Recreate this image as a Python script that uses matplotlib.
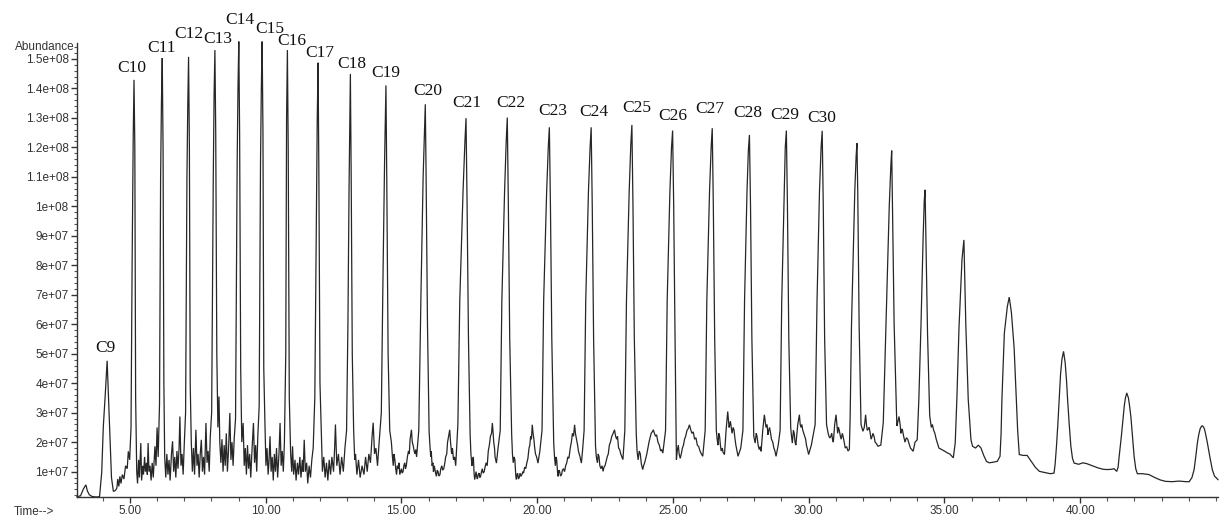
import numpy as np
import matplotlib.pyplot as plt
from matplotlib.ticker import FixedLocator, MultipleLocator

# n-alkane peaks: retention time (min) and apex abundance (x1e7)
peak_labels = ['C9', 'C10', 'C11', 'C12', 'C13', 'C14', 'C15', 'C16', 'C17', 'C18',
               'C19', 'C20', 'C21', 'C22', 'C23', 'C24', 'C25', 'C26', 'C27', 'C28',
               'C29', 'C30']
peak_times = [4.16, 5.15, 6.19, 7.16, 8.13, 9.01, 9.87, 10.80, 11.93, 13.12,
              14.43, 15.88, 17.38, 18.90, 20.45, 21.99, 23.49, 24.99, 26.45, 27.82,
              29.18, 30.50, 31.78, 33.06, 34.29, 35.72, 37.39, 39.39, 41.72, 44.50]
peak_heights = [4.76, 14.29, 15.03, 15.07, 15.30, 15.59, 15.59, 15.30, 14.87, 14.49,
                14.10, 13.46, 12.99, 13.01, 12.68, 12.68, 12.76, 12.57, 12.65, 12.42,
                12.57, 12.56, 12.14, 11.89, 10.56, 8.86, 6.92, 5.08, 3.67, 2.56]

# trace between the apexes: flanks, baseline noise and small humps (min, x1e7)
valley_points = [
    (3.05, 0.15), (3.18, 0.18), (3.28, 0.40), (3.34, 0.50), (3.38, 0.55), (3.43, 0.35),
    (3.50, 0.22), (3.60, 0.16), (3.75, 0.14), (3.88, 0.15), (3.96, 0.97), (4.02, 2.54),
    (4.09, 3.60), (4.21, 3.5), (4.26, 2.2), (4.32, 0.8), (4.39, 0.33), (4.44, 0.35),
    (4.48, 0.38), (4.52, 0.45), (4.55, 0.75), (4.59, 0.5), (4.63, 0.84), (4.67, 0.6),
    (4.72, 0.9), (4.78, 0.75), (4.84, 1.2), (4.90, 1.1), (4.94, 1.69), (4.99, 1.4),
    (5.04, 2.5), (5.08, 8.0), (5.12, 12.3), (5.18, 12.0), (5.21, 3.5),
    # C10 - C11
    (5.25, 1.0), (5.28, 0.6), (5.32, 1.4), (5.35, 0.8), (5.40, 1.97), (5.43, 0.7),
    (5.47, 1.2), (5.50, 0.9), (5.54, 1.5), (5.57, 1.0), (5.61, 1.3), (5.64, 0.9),
    (5.67, 1.97), (5.70, 1.0), (5.74, 1.2), (5.78, 0.7), (5.82, 1.3), (5.86, 0.8),
    (5.92, 1.86), (5.96, 1.2), (6.00, 2.5), (6.04, 1.5), (6.09, 3.3), (6.13, 11.0),
    (6.16, 13.5), (6.22, 12.0), (6.25, 4.0), (6.28, 1.5),
    # C11 - C12
    (6.32, 0.8), (6.36, 1.6), (6.40, 0.9), (6.44, 1.4), (6.48, 0.7), (6.53, 1.6),
    (6.57, 2.03), (6.61, 1.0), (6.65, 1.5), (6.69, 0.8), (6.73, 1.7), (6.77, 1.1),
    (6.81, 1.8), (6.84, 2.87), (6.88, 1.2), (6.92, 1.6), (6.96, 0.9), (7.00, 1.9),
    (7.05, 3.0), (7.10, 11.0), (7.13, 13.4), (7.19, 12.0), (7.22, 4.0), (7.26, 2.0),
    # C12 - C13
    (7.30, 1.0), (7.34, 1.8), (7.38, 0.9), (7.43, 2.42), (7.47, 1.2), (7.51, 1.6),
    (7.55, 0.8), (7.59, 1.6), (7.63, 2.08), (7.67, 1.0), (7.71, 1.5), (7.75, 0.9),
    (7.80, 2.65), (7.84, 1.3), (7.88, 1.7), (7.92, 1.0), (7.96, 2.2), (8.01, 3.0),
    (8.07, 11.0), (8.10, 13.8), (8.16, 12.5), (8.20, 5.0), (8.24, 2.5), (8.28, 3.55),
    (8.31, 2.0),
    # C13 - C14
    (8.35, 1.3), (8.39, 2.1), (8.43, 1.0), (8.47, 1.9), (8.51, 1.2), (8.55, 2.3),
    (8.59, 1.0), (8.63, 1.7), (8.68, 2.99), (8.72, 1.4), (8.76, 2.0), (8.80, 1.2),
    (8.84, 2.1), (8.89, 2.8), (8.95, 11.5), (8.98, 14.0), (9.04, 12.5), (9.08, 4.5),
    (9.12, 2.0),
    # C14 - C15
    (9.17, 2.65), (9.21, 1.2), (9.25, 1.8), (9.29, 0.9), (9.33, 1.9), (9.37, 1.1),
    (9.41, 1.6), (9.45, 0.8), (9.50, 1.8), (9.55, 2.65), (9.59, 1.3), (9.63, 1.9),
    (9.67, 1.0), (9.71, 2.2), (9.76, 3.2), (9.81, 11.5), (9.84, 14.0), (9.90, 12.5),
    (9.93, 4.5), (9.97, 2.76),
    # C15 - C16
    (10.01, 1.2), (10.05, 1.8), (10.09, 0.9), (10.12, 1.3), (10.16, 2.2), (10.20, 1.0),
    (10.24, 1.5), (10.28, 0.7), (10.32, 1.6), (10.36, 1.0), (10.40, 1.8), (10.44, 0.8),
    (10.49, 1.6), (10.53, 2.65), (10.57, 1.2), (10.61, 1.7), (10.65, 1.0), (10.69, 2.0),
    (10.74, 5.0), (10.77, 13.0), (10.83, 12.0), (10.87, 3.5), (10.92, 1.6),
    # C16 - C17
    (10.96, 1.0), (10.99, 1.86), (11.03, 0.9), (11.08, 1.4), (11.12, 0.7), (11.17, 1.3),
    (11.21, 0.9), (11.26, 1.5), (11.30, 0.8), (11.35, 1.4), (11.38, 1.0), (11.42, 2.08),
    (11.46, 1.0), (11.51, 1.3), (11.55, 0.6), (11.60, 1.2), (11.65, 0.8), (11.70, 1.4),
    (11.75, 1.8), (11.81, 3.5), (11.86, 9.0), (11.90, 13.0), (11.96, 11.0), (12.00, 4.0),
    (12.05, 2.31),
    # C17 - C18
    (12.09, 1.0), (12.14, 1.5), (12.19, 0.8), (12.24, 1.3), (12.29, 0.7), (12.34, 1.4),
    (12.39, 0.9), (12.44, 1.5), (12.50, 1.0), (12.54, 1.8), (12.57, 2.6), (12.62, 1.2),
    (12.68, 1.6), (12.74, 0.9), (12.80, 1.5), (12.86, 1.0), (12.92, 1.8), (12.98, 2.4),
    (13.03, 6.0), (13.07, 10.5), (13.10, 13.0), (13.15, 11.0), (13.19, 5.0), (13.24, 2.42),
    # C18 - C19
    (13.28, 1.4), (13.31, 1.6), (13.36, 0.9), (13.42, 1.4), (13.48, 0.8), (13.55, 1.2),
    (13.62, 0.9), (13.68, 1.5), (13.74, 1.0), (13.80, 1.6), (13.86, 1.3), (13.92, 2.2),
    (13.96, 2.66), (14.01, 1.6), (14.06, 1.8), (14.12, 1.2), (14.18, 2.0), (14.26, 3.0),
    (14.32, 7.5), (14.38, 11.5), (14.41, 13.0), (14.46, 11.0), (14.51, 5.0), (14.57, 2.4),
    # C19 - C20
    (14.63, 2.0), (14.67, 1.5), (14.70, 1.2), (14.73, 1.6), (14.76, 1.4), (14.79, 1.1),
    (14.82, 0.9), (14.85, 1.2), (14.88, 1.1), (14.91, 1.3), (14.94, 0.9), (14.97, 1.0),
    (15.00, 1.1), (15.03, 0.95), (15.06, 1.0), (15.09, 1.2), (15.12, 1.3), (15.15, 1.1),
    (15.18, 1.2), (15.22, 1.5), (15.26, 1.7), (15.29, 1.6), (15.32, 2.1), (15.37, 2.42),
    (15.40, 2.0), (15.43, 1.9), (15.47, 1.7), (15.50, 1.6), (15.53, 1.75), (15.56, 1.5),
    (15.64, 2.4), (15.72, 7.0), (15.80, 11.0), (15.85, 12.6), (15.91, 11.0), (15.96, 6.0),
    (16.02, 2.37),
    # C20 - C21
    (16.05, 1.9), (16.08, 1.5), (16.10, 1.7), (16.13, 1.2), (16.16, 1.3), (16.18, 1.0),
    (16.21, 1.2), (16.23, 1.1), (16.26, 0.95), (16.29, 0.84), (16.32, 1.05), (16.35, 1.0),
    (16.38, 0.85), (16.42, 0.9), (16.45, 1.1), (16.49, 1.2), (16.52, 1.05), (16.56, 1.1),
    (16.60, 1.3), (16.63, 1.5), (16.67, 1.6), (16.70, 2.0), (16.74, 2.2), (16.78, 2.42),
    (16.81, 2.0), (16.85, 1.6), (16.88, 1.8), (16.92, 1.4), (16.96, 1.5), (17.00, 1.2),
    (17.08, 2.6), (17.15, 6.8), (17.27, 10.5), (17.34, 12.2), (17.42, 10.0), (17.47, 5.5),
    (17.53, 2.3),
    # C21 - C22
    (17.56, 1.6), (17.60, 1.2), (17.62, 1.4), (17.65, 1.5), (17.68, 0.9), (17.70, 0.73),
    (17.73, 0.9), (17.75, 1.0), (17.78, 0.8), (17.80, 0.75), (17.83, 0.9), (17.86, 0.95),
    (17.89, 0.8), (17.92, 0.85), (17.95, 1.0), (17.98, 1.1), (18.01, 0.95), (18.05, 1.0),
    (18.08, 1.15), (18.12, 1.3), (18.16, 1.2), (18.20, 1.7), (18.24, 1.9), (18.28, 2.2),
    (18.32, 2.3), (18.35, 2.65), (18.38, 2.3), (18.40, 2.0), (18.43, 1.8), (18.45, 1.5),
    (18.50, 1.29), (18.56, 1.8), (18.64, 2.4), (18.70, 6.8), (18.80, 10.5), (18.86, 12.2),
    (18.94, 10.0), (18.99, 5.5), (19.06, 2.3),
    # C22 - C23
    (19.09, 1.6), (19.12, 1.3), (19.15, 1.5), (19.18, 1.4), (19.21, 0.9), (19.23, 0.73),
    (19.26, 0.9), (19.28, 0.95), (19.31, 0.75), (19.34, 0.8), (19.37, 0.95), (19.40, 0.84),
    (19.44, 0.9), (19.47, 1.0), (19.50, 0.95), (19.54, 1.15), (19.58, 1.1), (19.62, 1.3),
    (19.66, 1.45), (19.70, 1.8), (19.73, 1.9), (19.76, 2.2), (19.79, 2.1), (19.82, 2.59),
    (19.85, 2.3), (19.88, 2.1), (19.91, 1.8), (19.94, 1.6), (19.98, 1.5), (20.03, 1.29),
    (20.10, 1.7), (20.18, 2.4), (20.24, 6.8), (20.35, 10.5), (20.41, 12.0), (20.49, 10.0),
    (20.54, 5.5), (20.61, 1.97),
    # C23 - C24
    (20.64, 1.5), (20.67, 1.2), (20.70, 1.5), (20.72, 1.4), (20.75, 1.0), (20.77, 0.84),
    (20.80, 1.05), (20.83, 1.0), (20.86, 0.85), (20.90, 0.9), (20.93, 1.05), (20.97, 1.1),
    (21.01, 1.0), (21.05, 1.2), (21.09, 1.3), (21.13, 1.5), (21.17, 1.45), (21.22, 1.8),
    (21.26, 2.0), (21.30, 2.3), (21.34, 2.2), (21.38, 2.59), (21.41, 2.3), (21.45, 2.1),
    (21.49, 1.9), (21.52, 1.7), (21.58, 1.5), (21.63, 1.29), (21.68, 1.8), (21.73, 2.4),
    (21.79, 6.8), (21.89, 10.5), (21.95, 12.0), (22.03, 10.0), (22.08, 5.5), (22.15, 1.86),
    # C24 - C25
    (22.18, 1.5), (22.22, 1.3), (22.25, 1.6), (22.28, 1.5), (22.31, 1.2), (22.35, 1.1),
    (22.39, 1.2), (22.43, 1.01), (22.46, 1.15), (22.50, 1.2), (22.54, 1.35), (22.58, 1.5),
    (22.62, 1.6), (22.66, 1.9), (22.70, 2.0), (22.75, 2.2), (22.80, 2.3), (22.85, 2.42),
    (22.89, 2.2), (22.93, 2.1), (22.96, 2.2), (23.00, 1.8), (23.04, 1.75), (23.08, 1.6),
    (23.16, 1.41), (23.23, 2.4), (23.29, 6.8), (23.39, 10.5), (23.45, 12.1), (23.53, 10.0),
    (23.58, 5.5), (23.65, 2.3),
    # C25 - C26
    (23.68, 1.7), (23.72, 1.4), (23.76, 1.7), (23.80, 1.6), (23.84, 1.25), (23.89, 1.07),
    (23.92, 1.2), (23.96, 1.3), (24.00, 1.45), (24.04, 1.6), (24.08, 1.8), (24.12, 2.0),
    (24.16, 2.15), (24.20, 2.3), (24.24, 2.35), (24.28, 2.42), (24.32, 2.3), (24.36, 2.2),
    (24.40, 2.25), (24.45, 2.0), (24.50, 1.9), (24.55, 1.7), (24.59, 1.75), (24.63, 1.63),
    (24.73, 2.4), (24.79, 6.8), (24.89, 10.5), (24.95, 12.0), (25.03, 10.0), (25.08, 5.5),
    (25.13, 1.41),
    # C26 - C27
    (25.16, 1.7), (25.20, 1.9), (25.23, 1.6), (25.27, 1.45), (25.31, 1.6), (25.35, 1.8),
    (25.39, 1.9), (25.43, 2.1), (25.47, 2.2), (25.52, 2.4), (25.56, 2.45), (25.61, 2.59),
    (25.65, 2.45), (25.70, 2.3), (25.75, 2.35), (25.80, 2.1), (25.85, 2.15), (25.90, 1.9),
    (25.95, 1.85), (26.00, 1.7), (26.05, 1.6), (26.10, 1.52), (26.19, 2.4), (26.25, 6.8),
    (26.35, 10.5), (26.41, 12.0), (26.49, 10.0), (26.54, 5.5), (26.60, 2.4),
    # C27 - C28
    (26.63, 2.1), (26.66, 1.9), (26.69, 2.3), (26.72, 2.2), (26.75, 1.9), (26.78, 1.7),
    (26.82, 1.8), (26.85, 1.65), (26.90, 1.58), (26.96, 2.4), (27.02, 3.04), (27.05, 2.7),
    (27.07, 2.5), (27.10, 2.6), (27.12, 2.7), (27.15, 2.5), (27.18, 2.3), (27.22, 2.5),
    (27.25, 2.42), (27.29, 2.1), (27.32, 1.9), (27.36, 1.7), (27.40, 1.52), (27.50, 1.8),
    (27.58, 2.4), (27.64, 6.8), (27.73, 10.5), (27.78, 11.9), (27.86, 10.0), (27.91, 5.5),
    (27.98, 2.2),
    # C28 - C29
    (28.03, 1.97), (28.07, 2.3), (28.10, 2.2), (28.14, 1.9), (28.18, 1.75), (28.22, 1.85),
    (28.25, 1.69), (28.31, 2.4), (28.37, 2.93), (28.40, 2.7), (28.43, 2.5), (28.47, 2.6),
    (28.50, 2.25), (28.53, 2.4), (28.56, 2.5), (28.60, 2.3), (28.63, 2.1), (28.68, 2.0),
    (28.72, 1.8), (28.76, 1.7), (28.80, 1.52), (28.88, 1.9), (28.95, 2.4), (29.01, 6.8),
    (29.10, 10.5), (29.14, 12.0), (29.22, 10.0), (29.27, 5.5), (29.34, 2.5),
    # C29 - C30
    (29.37, 2.2), (29.40, 1.97), (29.44, 2.4), (29.47, 2.3), (29.50, 2.0), (29.53, 1.9),
    (29.57, 2.3), (29.60, 2.6), (29.66, 2.93), (29.69, 2.6), (29.72, 2.5), (29.75, 2.6),
    (29.78, 2.42), (29.82, 2.3), (29.85, 2.2), (29.89, 2.1), (29.92, 1.9), (29.96, 1.75),
    (30.00, 1.58), (30.10, 1.9), (30.24, 2.6), (30.31, 6.8), (30.40, 10.5), (30.46, 12.0),
    (30.54, 10.0), (30.59, 5.5), (30.66, 2.6),
    # C30 - C31
    (30.72, 2.3), (30.75, 2.2), (30.78, 2.14), (30.82, 2.2), (30.85, 2.3), (30.88, 2.1),
    (30.91, 2.0), (30.96, 2.6), (31.01, 2.93), (31.04, 2.6), (31.07, 2.3), (31.10, 2.5),
    (31.13, 2.4), (31.17, 2.2), (31.20, 2.1), (31.24, 2.3), (31.27, 2.2), (31.31, 2.0),
    (31.35, 1.8), (31.40, 1.85), (31.45, 1.7), (31.50, 1.75), (31.53, 2.87), (31.58, 6.0),
    (31.70, 10.5), (31.75, 11.7), (31.81, 10.5), (31.86, 6.0), (31.93, 2.6),
    # C31 - C32
    (32.00, 2.37), (32.05, 2.5), (32.10, 2.93), (32.13, 2.6), (32.16, 2.4), (32.20, 2.45),
    (32.23, 2.5), (32.27, 2.3), (32.30, 2.1), (32.34, 2.2), (32.37, 2.3), (32.41, 2.2),
    (32.45, 2.0), (32.50, 1.95), (32.55, 1.86), (32.66, 1.9), (32.75, 2.66), (32.85, 6.0),
    (32.97, 10.0), (33.03, 11.4), (33.09, 10.0), (33.15, 6.0), (33.25, 2.55),
    # C32 - C33
    (33.29, 2.7), (33.33, 2.87), (33.37, 2.6), (33.40, 2.3), (33.43, 2.45), (33.46, 2.4),
    (33.50, 2.2), (33.55, 2.0), (33.60, 2.15), (33.65, 2.1), (33.70, 1.95), (33.75, 1.8),
    (33.80, 1.75), (33.85, 1.69), (33.92, 2.0), (34.00, 2.08), (34.06, 3.44), (34.14, 6.0),
    (34.22, 9.0), (34.26, 10.2), (34.32, 9.0), (34.38, 5.7), (34.46, 2.9),
    # C33 - C34
    (34.52, 2.5), (34.56, 2.6), (34.60, 2.42), (34.65, 2.3), (34.70, 2.1), (34.75, 1.95),
    (34.80, 1.8), (34.90, 1.75), (35.00, 1.7), (35.10, 1.64), (35.20, 1.6), (35.33, 1.47),
    (35.40, 1.97), (35.46, 3.44), (35.54, 5.9), (35.65, 8.2), (35.79, 6.0), (35.88, 3.44),
    (35.98, 2.08),
    # C34 - C35
    (36.04, 1.86), (36.15, 1.8), (36.25, 1.9), (36.35, 1.8), (36.45, 1.55), (36.55, 1.35),
    (36.65, 1.3), (36.80, 1.32), (36.95, 1.35), (37.05, 1.52), (37.09, 2.3), (37.12, 3.44),
    (37.21, 5.7), (37.32, 6.6), (37.47, 6.4), (37.57, 5.2), (37.65, 3.44), (37.70, 2.4),
    (37.76, 1.58),
    # C35 - C36
    (37.90, 1.55), (38.05, 1.55), (38.20, 1.35), (38.35, 1.15), (38.50, 1.01), (38.70, 0.97),
    (38.90, 0.93), (39.04, 0.95), (39.08, 1.25), (39.13, 1.86), (39.18, 2.6), (39.23, 3.44),
    (39.28, 4.3), (39.33, 4.8), (39.45, 4.7), (39.50, 4.1), (39.54, 3.44), (39.60, 2.6),
    (39.66, 1.86), (39.72, 1.45), (39.78, 1.29),
    # C36 - C37
    (39.95, 1.25), (40.10, 1.3), (40.25, 1.27), (40.45, 1.2), (40.65, 1.13), (40.85, 1.08),
    (41.00, 1.07), (41.15, 1.08), (41.25, 1.1), (41.35, 1.01), (41.40, 1.15), (41.44, 1.52),
    (41.52, 2.2), (41.59, 2.87), (41.63, 3.25), (41.67, 3.5), (41.78, 3.5), (41.82, 3.25),
    (41.87, 2.87), (41.93, 2.2), (41.99, 1.52), (42.05, 1.1), (42.11, 0.93),
    # C37 - end
    (42.30, 0.93), (42.54, 0.9), (42.75, 0.8), (42.95, 0.72), (43.15, 0.67), (43.40, 0.66),
    (43.65, 0.68), (43.89, 0.66), (44.02, 0.66), (44.12, 0.8), (44.20, 1.07), (44.26, 1.5),
    (44.32, 1.97), (44.37, 2.25), (44.42, 2.45), (44.46, 2.52), (44.54, 2.52), (44.58, 2.45),
    (44.63, 2.25), (44.69, 1.97), (44.78, 1.5), (44.87, 1.07), (44.95, 0.85), (45.08, 0.73),
]

y_ticks = [1e7, 2e7, 3e7, 4e7, 5e7, 6e7, 7e7, 8e7, 9e7, 1e8, 1.1e8, 1.2e8, 1.3e8, 1.4e8, 1.5e8]
y_tick_labels = ['1e+07', '2e+07', '3e+07', '4e+07', '5e+07', '6e+07', '7e+07', '8e+07',
                 '9e+07', '1e+08', '1.1e+08', '1.2e+08', '1.3e+08', '1.4e+08', '1.5e+08']
x_ticks = [5, 10, 15, 20, 25, 30, 35, 40]
x_tick_labels = ['5.00', '10.00', '15.00', '20.00', '25.00', '30.00', '35.00', '40.00']

# label placement, pixels from each apex
label_offsets = [(-2, 9), (-2, 8), (-1, 6), (0, 19), (3, 7), (1, 18), (8, 9), (4, 5),
                 (2, 6), (1, 6), (0, 8), (2, 9), (1, 11), (4, 11), (3, 12), (3, 11),
                 (5, 13), (0, 11), (-2, 15), (-2, 18), (-2, 12), (-1, 9)]

# merge apexes with the rest of the trace
pts = sorted(list(zip(peak_times, peak_heights)) + valley_points)
time = np.array([p[0] for p in pts])
abundance = np.array([p[1] for p in pts]) * 1e7

W, H = 1219, 520
fig = plt.figure(figsize=(W / 100, H / 100), dpi=100)
ax = fig.add_axes([77 / W, 23 / H, 1 - 77 / W - 1 / W, (497 - 43) / H])

ax.plot(time, abundance, color='#262626', lw=0.9, solid_joinstyle='miter', clip_on=False)

ax.set_xlim(3.05, 45.08)
ax.set_ylim(0.14e7, 15.54e7)

for side in ['top', 'right']:
    ax.spines[side].set_visible(False)
for side in ['left', 'bottom']:
    ax.spines[side].set_color('#333333')
    ax.spines[side].set_linewidth(1.0)

ax.xaxis.set_major_locator(FixedLocator(x_ticks))
ax.set_xticklabels(x_tick_labels)
ax.xaxis.set_minor_locator(MultipleLocator(1))
ax.yaxis.set_major_locator(FixedLocator(y_ticks))
ax.set_yticklabels(y_tick_labels)
ax.yaxis.set_minor_locator(MultipleLocator(2e6))

ax.tick_params(which='major', direction='out', length=4, width=1, color='#333333',
               labelsize=8.5, labelcolor='#333333', pad=2)
ax.tick_params(which='minor', direction='out', length=3, width=0.8, color='#555555')
ax.tick_params(axis='y', which='minor', length=2)
for lbl in ax.get_xticklabels() + ax.get_yticklabels():
    lbl.set_family('Liberation Sans')

fig.text(75 / W, 1 - 47 / H, 'Abundance', ha='right', va='center', fontsize=8.5,
         color='#333333', family='Liberation Sans')
fig.text(14 / W, 1 - 512 / H, 'Time-->', ha='left', va='center', fontsize=8.5,
         color='#333333', family='Liberation Sans')

for name, t, h, (dx, dy) in zip(peak_labels, peak_times, peak_heights, label_offsets):
    ax.annotate(name, xy=(t, h * 1e7), xytext=(dx, dy), textcoords='offset pixels',
                ha='center', va='baseline', fontsize=12.5, color='#111111',
                family='Liberation Serif', annotation_clip=False)

fig.savefig('out.png', dpi=100)
